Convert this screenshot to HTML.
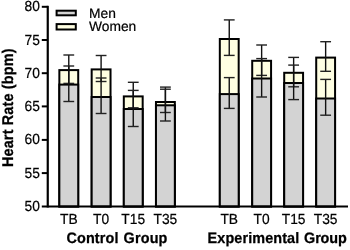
<!DOCTYPE html>
<html><head><meta charset="utf-8"><style>
html,body{margin:0;padding:0;background:#fff;width:350px;height:250px;overflow:hidden}
svg{display:block;-webkit-font-smoothing:antialiased;will-change:transform;text-rendering:geometricPrecision;font-family:"Liberation Sans",sans-serif}
</style></head><body>
<svg width="350" height="250" viewBox="0 0 350 250">
<rect width="350" height="250" fill="#fff"/>
<rect x="59.35" y="70.10" width="18.86" height="136.40" fill="#fefee2" stroke="#000" stroke-width="2.0"/>
<rect x="59.35" y="84.60" width="18.86" height="121.90" fill="#d3d3d3" stroke="#000" stroke-width="2.0"/>
<rect x="91.67" y="69.40" width="18.86" height="137.10" fill="#fefee2" stroke="#000" stroke-width="2.0"/>
<rect x="91.67" y="97.00" width="18.86" height="109.50" fill="#d3d3d3" stroke="#000" stroke-width="2.0"/>
<rect x="123.82" y="96.40" width="18.86" height="110.10" fill="#fefee2" stroke="#000" stroke-width="2.0"/>
<rect x="123.82" y="109.00" width="18.86" height="97.50" fill="#d3d3d3" stroke="#000" stroke-width="2.0"/>
<rect x="155.97" y="102.00" width="18.86" height="104.50" fill="#fefee2" stroke="#000" stroke-width="2.0"/>
<rect x="155.97" y="105.30" width="18.86" height="101.20" fill="#d3d3d3" stroke="#000" stroke-width="2.0"/>
<rect x="219.82" y="39.00" width="18.86" height="167.50" fill="#fefee2" stroke="#000" stroke-width="2.0"/>
<rect x="219.82" y="94.10" width="18.86" height="112.40" fill="#d3d3d3" stroke="#000" stroke-width="2.0"/>
<rect x="252.21" y="60.80" width="18.86" height="145.70" fill="#fefee2" stroke="#000" stroke-width="2.0"/>
<rect x="252.21" y="78.50" width="18.86" height="128.00" fill="#d3d3d3" stroke="#000" stroke-width="2.0"/>
<rect x="284.21" y="72.80" width="18.86" height="133.70" fill="#fefee2" stroke="#000" stroke-width="2.0"/>
<rect x="284.21" y="83.00" width="18.86" height="123.50" fill="#d3d3d3" stroke="#000" stroke-width="2.0"/>
<rect x="316.21" y="57.60" width="18.86" height="148.90" fill="#fefee2" stroke="#000" stroke-width="2.0"/>
<rect x="316.21" y="98.50" width="18.86" height="108.00" fill="#d3d3d3" stroke="#000" stroke-width="2.0"/>
<line x1="68.78" y1="55.00" x2="68.78" y2="83.40" stroke="#111" stroke-width="1.4"/>
<line x1="63.38" y1="55.00" x2="74.18" y2="55.00" stroke="#222" stroke-width="1.4"/>
<line x1="63.38" y1="83.40" x2="74.18" y2="83.40" stroke="#222" stroke-width="1.4"/>
<line x1="68.78" y1="66.00" x2="68.78" y2="101.50" stroke="#111" stroke-width="1.4"/>
<line x1="63.38" y1="66.00" x2="74.18" y2="66.00" stroke="#222" stroke-width="1.4"/>
<line x1="63.38" y1="101.50" x2="74.18" y2="101.50" stroke="#222" stroke-width="1.4"/>
<line x1="101.10" y1="55.50" x2="101.10" y2="81.50" stroke="#111" stroke-width="1.4"/>
<line x1="95.70" y1="55.50" x2="106.50" y2="55.50" stroke="#222" stroke-width="1.4"/>
<line x1="95.70" y1="81.50" x2="106.50" y2="81.50" stroke="#222" stroke-width="1.4"/>
<line x1="101.10" y1="78.00" x2="101.10" y2="113.50" stroke="#111" stroke-width="1.4"/>
<line x1="95.70" y1="78.00" x2="106.50" y2="78.00" stroke="#222" stroke-width="1.4"/>
<line x1="95.70" y1="113.50" x2="106.50" y2="113.50" stroke="#222" stroke-width="1.4"/>
<line x1="133.25" y1="82.30" x2="133.25" y2="107.80" stroke="#111" stroke-width="1.4"/>
<line x1="127.85" y1="82.30" x2="138.65" y2="82.30" stroke="#222" stroke-width="1.4"/>
<line x1="127.85" y1="107.80" x2="138.65" y2="107.80" stroke="#222" stroke-width="1.4"/>
<line x1="133.25" y1="90.40" x2="133.25" y2="126.50" stroke="#111" stroke-width="1.4"/>
<line x1="127.85" y1="90.40" x2="138.65" y2="90.40" stroke="#222" stroke-width="1.4"/>
<line x1="127.85" y1="126.50" x2="138.65" y2="126.50" stroke="#222" stroke-width="1.4"/>
<line x1="165.40" y1="87.10" x2="165.40" y2="112.50" stroke="#111" stroke-width="1.4"/>
<line x1="160.00" y1="87.10" x2="170.80" y2="87.10" stroke="#222" stroke-width="1.4"/>
<line x1="160.00" y1="112.50" x2="170.80" y2="112.50" stroke="#222" stroke-width="1.4"/>
<line x1="165.40" y1="89.20" x2="165.40" y2="121.00" stroke="#111" stroke-width="1.4"/>
<line x1="160.00" y1="89.20" x2="170.80" y2="89.20" stroke="#222" stroke-width="1.4"/>
<line x1="160.00" y1="121.00" x2="170.80" y2="121.00" stroke="#222" stroke-width="1.4"/>
<line x1="229.25" y1="19.90" x2="229.25" y2="55.40" stroke="#111" stroke-width="1.4"/>
<line x1="223.85" y1="19.90" x2="234.65" y2="19.90" stroke="#222" stroke-width="1.4"/>
<line x1="223.85" y1="55.40" x2="234.65" y2="55.40" stroke="#222" stroke-width="1.4"/>
<line x1="229.25" y1="77.60" x2="229.25" y2="108.40" stroke="#111" stroke-width="1.4"/>
<line x1="223.85" y1="77.60" x2="234.65" y2="77.60" stroke="#222" stroke-width="1.4"/>
<line x1="223.85" y1="108.40" x2="234.65" y2="108.40" stroke="#222" stroke-width="1.4"/>
<line x1="261.64" y1="45.00" x2="261.64" y2="75.40" stroke="#111" stroke-width="1.4"/>
<line x1="256.24" y1="45.00" x2="267.04" y2="45.00" stroke="#222" stroke-width="1.4"/>
<line x1="256.24" y1="75.40" x2="267.04" y2="75.40" stroke="#222" stroke-width="1.4"/>
<line x1="261.64" y1="58.60" x2="261.64" y2="97.00" stroke="#111" stroke-width="1.4"/>
<line x1="256.24" y1="58.60" x2="267.04" y2="58.60" stroke="#222" stroke-width="1.4"/>
<line x1="256.24" y1="97.00" x2="267.04" y2="97.00" stroke="#222" stroke-width="1.4"/>
<line x1="293.64" y1="57.40" x2="293.64" y2="86.80" stroke="#111" stroke-width="1.4"/>
<line x1="288.24" y1="57.40" x2="299.04" y2="57.40" stroke="#222" stroke-width="1.4"/>
<line x1="288.24" y1="86.80" x2="299.04" y2="86.80" stroke="#222" stroke-width="1.4"/>
<line x1="293.64" y1="65.10" x2="293.64" y2="99.60" stroke="#111" stroke-width="1.4"/>
<line x1="288.24" y1="65.10" x2="299.04" y2="65.10" stroke="#222" stroke-width="1.4"/>
<line x1="288.24" y1="99.60" x2="299.04" y2="99.60" stroke="#222" stroke-width="1.4"/>
<line x1="325.64" y1="41.70" x2="325.64" y2="71.30" stroke="#111" stroke-width="1.4"/>
<line x1="320.24" y1="41.70" x2="331.04" y2="41.70" stroke="#222" stroke-width="1.4"/>
<line x1="320.24" y1="71.30" x2="331.04" y2="71.30" stroke="#222" stroke-width="1.4"/>
<line x1="325.64" y1="79.40" x2="325.64" y2="115.20" stroke="#111" stroke-width="1.4"/>
<line x1="320.24" y1="79.40" x2="331.04" y2="79.40" stroke="#222" stroke-width="1.4"/>
<line x1="320.24" y1="115.20" x2="331.04" y2="115.20" stroke="#222" stroke-width="1.4"/>
<line x1="47.75" y1="5.80" x2="47.75" y2="207.50" stroke="#000" stroke-width="2.2"/>
<line x1="41.8" y1="206.50" x2="348" y2="206.50" stroke="#000" stroke-width="2.0"/>
<line x1="41.8" y1="6.80" x2="47.75" y2="6.80" stroke="#000" stroke-width="2.0"/>
<line x1="41.8" y1="40.00" x2="47.75" y2="40.00" stroke="#000" stroke-width="2.0"/>
<line x1="41.8" y1="73.20" x2="47.75" y2="73.20" stroke="#000" stroke-width="2.0"/>
<line x1="41.8" y1="106.40" x2="47.75" y2="106.40" stroke="#000" stroke-width="2.0"/>
<line x1="41.8" y1="139.90" x2="47.75" y2="139.90" stroke="#000" stroke-width="2.0"/>
<line x1="41.8" y1="173.10" x2="47.75" y2="173.10" stroke="#000" stroke-width="2.0"/>
<text transform="translate(39.90,11.30) scale(1,1.06)" text-anchor="end" font-size="13.8" stroke="#000" stroke-width="0.2">80</text>
<text transform="translate(39.90,44.50) scale(1,1.06)" text-anchor="end" font-size="13.8" stroke="#000" stroke-width="0.2">75</text>
<text transform="translate(39.90,77.70) scale(1,1.06)" text-anchor="end" font-size="13.8" stroke="#000" stroke-width="0.2">70</text>
<text transform="translate(39.90,110.90) scale(1,1.06)" text-anchor="end" font-size="13.8" stroke="#000" stroke-width="0.2">65</text>
<text transform="translate(39.90,144.40) scale(1,1.06)" text-anchor="end" font-size="13.8" stroke="#000" stroke-width="0.2">60</text>
<text transform="translate(39.90,177.60) scale(1,1.06)" text-anchor="end" font-size="13.8" stroke="#000" stroke-width="0.2">55</text>
<text transform="translate(39.90,211.00) scale(1,1.06)" text-anchor="end" font-size="13.8" stroke="#000" stroke-width="0.2">50</text>
<text transform="translate(68.78,224.00) scale(1,1.06)" text-anchor="middle" font-size="13.8" stroke="#000" stroke-width="0.2">TB</text>
<text transform="translate(101.10,224.00) scale(1,1.06)" text-anchor="middle" font-size="13.8" stroke="#000" stroke-width="0.2">T0</text>
<text transform="translate(133.25,224.00) scale(1,1.06)" text-anchor="middle" font-size="13.8" stroke="#000" stroke-width="0.2">T15</text>
<text transform="translate(165.40,224.00) scale(1,1.06)" text-anchor="middle" font-size="13.8" stroke="#000" stroke-width="0.2">T35</text>
<text transform="translate(229.25,224.00) scale(1,1.06)" text-anchor="middle" font-size="13.8" stroke="#000" stroke-width="0.2">TB</text>
<text transform="translate(261.64,224.00) scale(1,1.06)" text-anchor="middle" font-size="13.8" stroke="#000" stroke-width="0.2">T0</text>
<text transform="translate(293.64,224.00) scale(1,1.06)" text-anchor="middle" font-size="13.8" stroke="#000" stroke-width="0.2">T15</text>
<text transform="translate(325.64,224.00) scale(1,1.06)" text-anchor="middle" font-size="13.8" stroke="#000" stroke-width="0.2">T35</text>
<rect x="56.6" y="10.7" width="19.2" height="4.6" fill="#d3d3d3" stroke="#000" stroke-width="2.0"/>
<rect x="56.6" y="24.1" width="19.2" height="5.4" fill="#fefee2" stroke="#000" stroke-width="2.0"/>
<text transform="translate(89.00,17.90) scale(1,1.0)" text-anchor="start" font-size="13.8" stroke="#000" stroke-width="0.2">Men</text>
<text transform="translate(89.00,31.30) scale(1,1.0)" text-anchor="start" font-size="13.8" stroke="#000" stroke-width="0.2">Women</text>
<text transform="translate(66.50,243.20) scale(1,1.05)" text-anchor="start" font-size="14.4" font-weight="bold" stroke="#000" stroke-width="0.25" textLength="51.9" lengthAdjust="spacing">Control</text>
<text transform="translate(123.60,243.20) scale(1,1.05)" text-anchor="start" font-size="14.4" font-weight="bold" stroke="#000" stroke-width="0.25" textLength="43.8" lengthAdjust="spacing">Group</text>
<text transform="translate(207.60,243.20) scale(1,1.05)" text-anchor="start" font-size="14.4" font-weight="bold" stroke="#000" stroke-width="0.25" textLength="91.6" lengthAdjust="spacing">Experimental</text>
<text transform="translate(304.10,243.20) scale(1,1.05)" text-anchor="start" font-size="14.4" font-weight="bold" stroke="#000" stroke-width="0.25" textLength="42.6" lengthAdjust="spacing">Group</text>
<text transform="translate(13.40,107.80) rotate(-90) scale(1,1.08)" text-anchor="middle" font-size="14.4" font-weight="bold" stroke="#000" stroke-width="0.25" textLength="118.6" lengthAdjust="spacing">Heart Rate (bpm)</text>
</svg>
</body></html>
